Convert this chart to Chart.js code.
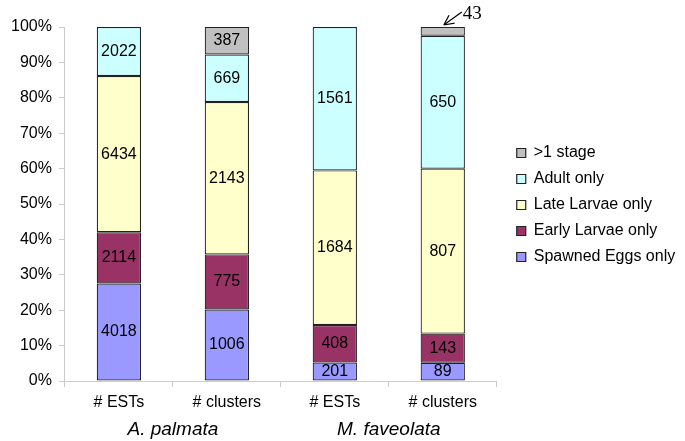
<!DOCTYPE html>
<html>
<head>
<meta charset="utf-8">
<script src="https://cdn.jsdelivr.net/npm/chart.js@4.4.1/dist/chart.umd.min.js"></script>
<style>
  html, body { margin: 0; padding: 0; background: #fff; }
  #wrap { width: 685px; height: 441px; }
</style>
</head>
<body>
<div id="wrap"><canvas id="grafico"></canvas></div>
<script>
// Dados (contagens brutas por estágio)
const categorias = ["# ESTs", "# clusters", "# ESTs", "# clusters"];
const especies = ["A. palmata", "M. faveolata"];
const spawnedEggs = [4018, 1006, 201, 89];
const earlyLarvae = [2114, 775, 408, 143];
const lateLarvae = [6434, 2143, 1684, 807];
const adultOnly = [2022, 669, 1561, 650];
const multiStage = [0, 387, 0, 43];

const contagens = [spawnedEggs, earlyLarvae, lateLarvae, adultOnly, multiStage];
const totais = categorias.map((_, i) => contagens.reduce((s, serie) => s + serie[i], 0));
const pct = (serie) => serie.map((v, i) => (v / totais[i]) * 100);

const fonte = "'Liberation Sans', Arial, sans-serif";

function serie(label, valores, cor) {
  return {
    label: label,
    data: pct(valores),
    brutos: valores,
    backgroundColor: cor,
    borderColor: "#222",
    borderWidth: 1.2,
    borderSkipped: false,
    barPercentage: 0.41,
    categoryPercentage: 1,
  };
}

// Escreve os valores no meio de cada segmento; o "43" fica fora com seta
const rotulos = {
  id: "rotulos",
  afterLayout(chart) {
    // aproxima a legenda da posição do original
    const lg = chart.legend;
    lg.left += 10; lg.right = chart.width;
    lg.top -= 29; lg.bottom -= 29;
  },
  afterDatasetsDraw(chart) {
    const ctx = chart.ctx;
    ctx.save();
    chart.data.datasets.forEach((ds, di) => {
      const meta = chart.getDatasetMeta(di);
      meta.data.forEach((bar, i) => {
        const v = ds.brutos[i];
        if (!v) return;
        if (di === 4 && i === 3) {
          // seta apontando para o segmento pequeno
          const tx = bar.x + 1, ty = bar.y - 2;
          const sx = bar.x + 19, sy = bar.y - 15;
          const ang = Math.atan2(sy - ty, sx - tx);
          ctx.strokeStyle = "#000";
          ctx.lineWidth = 1.2;
          ctx.beginPath();
          ctx.moveTo(sx, sy);
          ctx.lineTo(tx, ty);
          [0.45, -0.45].forEach((d) => {
            ctx.moveTo(tx, ty);
            ctx.lineTo(tx + 11 * Math.cos(ang + d), ty + 11 * Math.sin(ang + d));
          });
          ctx.stroke();
          ctx.fillStyle = "#000";
          ctx.font = "19px 'Liberation Serif', 'Times New Roman', serif";
          ctx.textAlign = "left";
          ctx.textBaseline = "middle";
          ctx.fillText(String(v), bar.x + 20, bar.y - 13);
          return;
        }
        ctx.fillStyle = "#000";
        ctx.font = "16px " + fonte;
        ctx.textAlign = "center";
        ctx.textBaseline = "middle";
        ctx.fillText(String(v), bar.x, (bar.y + bar.base) / 2);
      });
    });
    ctx.restore();
  },
};

new Chart(document.getElementById("grafico"), {
  type: "bar",
  data: {
    labels: categorias,
    datasets: [
      serie("Spawned Eggs only", spawnedEggs, "#9999FF"),
      serie("Early Larvae only", earlyLarvae, "#993366"),
      serie("Late Larvae only", lateLarvae, "#FFFFCC"),
      serie("Adult only", adultOnly, "#CCFFFF"),
      serie(">1 stage", multiStage, "#C0C0C0"),
    ],
  },
  options: {
    responsive: true,
    maintainAspectRatio: false,
    animation: false,
    layout: { padding: { top: 27, bottom: 0, left: 4, right: 24 } },
    plugins: {
      tooltip: { enabled: false },
      legend: {
        position: "right",
        reverse: true,
        labels: {
          color: "#000",
          font: { family: fonte, size: 16 },
          boxWidth: 9,
          boxHeight: 9,
          padding: 10,
        },
      },
    },
    scales: {
      x: {
        stacked: true,
        grid: { offset: true, drawOnChartArea: false, color: "#ccc", tickLength: 6 },
        border: { color: "#ccc" },
        ticks: { color: "#000", font: { family: fonte, size: 16 }, padding: 6 },
      },
      x2: {
        type: "category",
        labels: especies,
        position: "bottom",
        offset: true,
        grid: { display: false, drawTicks: false },
        border: { display: false },
        ticks: { color: "#000", font: { family: fonte, size: 19, style: "italic" }, padding: 0 },
      },
      y: {
        stacked: true,
        min: 0,
        max: 100,
        grid: { drawOnChartArea: false, color: "#ccc", tickLength: 6 },
        border: { color: "#ccc" },
        ticks: {
          stepSize: 10,
          color: "#000",
          font: { family: fonte, size: 16 },
          padding: 7,
          callback: (v) => v + "%",
        },
      },
    },
  },
  plugins: [rotulos],
});
</script>
</body>
</html>
